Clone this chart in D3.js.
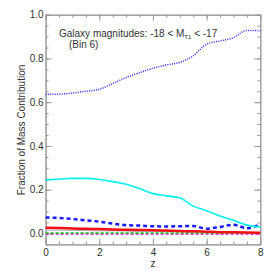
<!DOCTYPE html>
<html>
<head>
<meta charset="utf-8">
<script src="https://cdn.jsdelivr.net/npm/d3@7"></script>
<style>
  body { margin: 0; background: #fff; }
  text { font-family: "Liberation Sans", Arial, sans-serif; fill: #333; }
</style>
</head>
<body>
<div id="chart"></div>
<script>
// redshift grid
const zValues = [0, 0.5, 1, 1.5, 2, 2.5, 3, 3.5, 4, 4.5, 5, 5.5, 6, 6.5, 7, 7.5, 8];

// mass fractions per component
const blueDotted = [0.636, 0.637, 0.642, 0.650, 0.659, 0.685, 0.713, 0.735, 0.755, 0.770, 0.782, 0.812, 0.865, 0.880, 0.895, 0.928, 0.927];
const cyanSolid = [0.245, 0.248, 0.252, 0.252, 0.247, 0.237, 0.225, 0.205, 0.182, 0.172, 0.163, 0.125, 0.104, 0.080, 0.060, 0.038, 0.030];
const blueDashed = [0.073, 0.071, 0.066, 0.060, 0.054, 0.045, 0.038, 0.036, 0.033, 0.032, 0.033, 0.034, 0.022, 0.030, 0.040, 0.024, 0.043];
const redSolid = [0.026, 0.025, 0.023, 0.021, 0.020, 0.018, 0.017, 0.016, 0.015, 0.013, 0.011, 0.010, 0.008, 0.006, 0.005, 0.004, 0.003];
const graySolid = [0.015, 0.015, 0.014, 0.013, 0.012, 0.012, 0.011, 0.010, 0.010, 0.009, 0.008, 0.007, 0.006, 0.005, 0.004, 0.004, 0.003];
const greenDashed = [0.002, 0.002, 0.002, 0.002, 0.002, 0.002, 0.002, 0.002, 0.002, 0.002, 0.002, 0.002, 0.002, 0.002, 0.002, 0.002, 0.002];
const magentaDashed = [-0.001, -0.001, -0.001, -0.001, -0.001, -0.001, -0.001, -0.001, -0.001, -0.001, -0.001, -0.001, -0.001, -0.001, -0.001, -0.001, -0.001];

const xTicks = [0, 2, 4, 6, 8];
const yTicks = [0.0, 0.2, 0.4, 0.6, 0.8, 1.0];

function drawChart() {
    const W = 274, H = 274;
    const svg = d3.select("#chart").append("svg")
        .attr("width", W).attr("height", H);

    const x = d3.scaleLinear().domain([0, 8]).range([45.6, 260.3]);
    const y = d3.scaleLinear().domain([-0.05, 1.0]).range([244.4, 14.7]);

    const axisColor = "#999";

    // minor ticks first
    const minorX = d3.range(0, 8.01, 0.5);
    const minorY = d3.range(-0.05, 1.001, 0.05);

    function styleAxis(g) {
        g.select(".domain").attr("stroke", axisColor);
        g.selectAll(".tick line").attr("stroke", axisColor);
        g.selectAll(".tick text").style("font-size", "10px").attr("fill", "#333")
            .style("font-family", '"Liberation Sans", Arial, sans-serif');
    }

    // bottom
    svg.append("g").attr("transform", `translate(0,${y(-0.05)})`)
        .call(d3.axisBottom(x).tickValues(minorX).tickSize(-3).tickSizeOuter(0).tickFormat(""))
        .call(styleAxis);
    svg.append("g").attr("transform", `translate(0,${y(-0.05)})`)
        .call(d3.axisBottom(x).tickValues(xTicks).tickSize(-6).tickSizeOuter(0).tickPadding(5).tickFormat(d3.format("d")))
        .call(styleAxis);
    // top
    svg.append("g").attr("transform", `translate(0,${y(1.0)})`)
        .call(d3.axisTop(x).tickValues(minorX).tickSize(-3).tickSizeOuter(0).tickFormat(""))
        .call(styleAxis);
    svg.append("g").attr("transform", `translate(0,${y(1.0)})`)
        .call(d3.axisTop(x).tickValues(xTicks).tickSize(-6).tickSizeOuter(0).tickFormat(""))
        .call(styleAxis);
    // left
    svg.append("g").attr("transform", `translate(${x(0)},0)`)
        .call(d3.axisLeft(y).tickValues(minorY).tickSize(-3).tickSizeOuter(0).tickFormat(""))
        .call(styleAxis);
    svg.append("g").attr("transform", `translate(${x(0)},0)`)
        .call(d3.axisLeft(y).tickValues(yTicks).tickSize(-6).tickSizeOuter(0).tickPadding(2).tickFormat(d3.format(".1f")))
        .call(styleAxis);
    // right
    svg.append("g").attr("transform", `translate(${x(8)},0)`)
        .call(d3.axisRight(y).tickValues(minorY).tickSize(-3).tickSizeOuter(0).tickFormat(""))
        .call(styleAxis);
    svg.append("g").attr("transform", `translate(${x(8)},0)`)
        .call(d3.axisRight(y).tickValues(yTicks).tickSize(-6).tickSizeOuter(0).tickFormat(""))
        .call(styleAxis);

    // axis labels
    svg.append("text")
        .attr("x", x(4)).attr("y", 267)
        .attr("text-anchor", "middle")
        .style("font-size", "10px")
        .text("z");

    svg.append("text")
        .attr("transform", `translate(25,130) rotate(-90)`)
        .attr("text-anchor", "middle")
        .style("font-size", "10px")
        .text("Fraction of Mass Contribution");

    // annotation
    const ann = svg.append("text")
        .attr("x", 59).attr("y", 37)
        .style("font-size", "10px");
    ann.append("tspan").text("Galaxy magnitudes: -18 < M");
    ann.append("tspan").attr("dy", 2).style("font-size", "6px").text("T1");
    ann.append("tspan").attr("dy", -2).text(" < -17");

    svg.append("text")
        .attr("x", 69).attr("y", 48)
        .style("font-size", "10px")
        .text("(Bin 6)");

    // series
    const series = [
        {values: magentaDashed, color: "#ff00ff", width: 2, dash: "3,2"},
        {values: greenDashed, color: "#00e000", width: 1.5, dash: "3,2"},
        {values: graySolid, color: "#aaaaaa", width: 1, dash: null},
        {values: redSolid, color: "#f01010", width: 2.5, dash: null},
        {values: blueDashed, color: "#1a1aff", width: 2.5, dash: "4,3"},
        {values: cyanSolid, color: "#00f0f0", width: 1.6, dash: null},
        {values: blueDotted, color: "#2a2aff", width: 1.5, dash: "1,1.3"}
    ];

    const line = d3.line()
        .x((d, i) => x(zValues[i]))
        .y(d => y(d))
        .curve(d3.curveMonotoneX);

    series.forEach(s => {
        svg.append("path")
            .datum(s.values)
            .attr("fill", "none")
            .attr("stroke", s.color)
            .attr("stroke-width", s.width)
            .attr("stroke-dasharray", s.dash)
            .attr("d", line);
    });
}

document.addEventListener("DOMContentLoaded", drawChart);
</script>
</body>
</html>
